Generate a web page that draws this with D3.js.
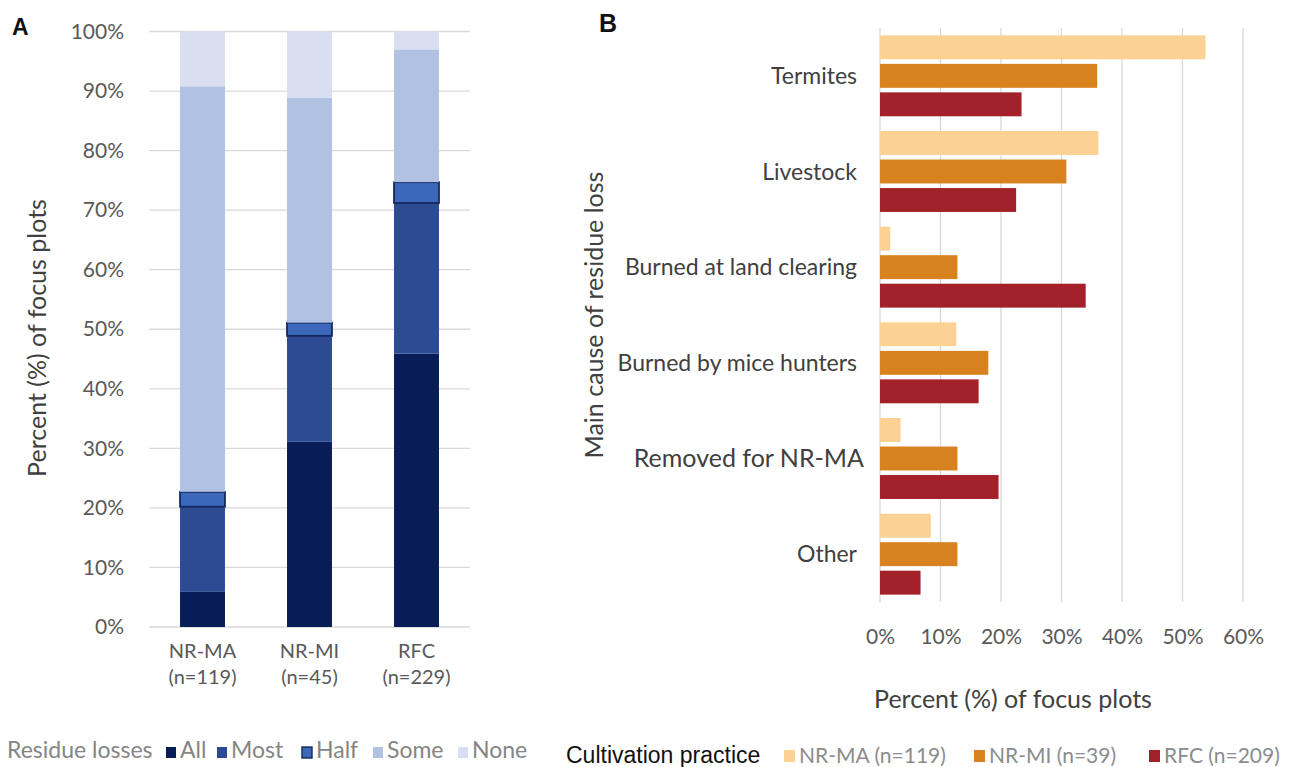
<!DOCTYPE html>
<html><head><meta charset="utf-8">
<script src="https://cdn.jsdelivr.net/npm/d3@7"></script>
<style>
body{margin:0;background:#fff;}
svg{display:block;font-family:Lato, "Open Sans", sans-serif;}
</style></head>
<body>
<svg id="chart" width="1296" height="767"></svg>
<script>
// ---------- Panel A data ----------
const groupsA = ["NR-MA", "NR-MI", "RFC"];
const groupsN = ["(n=119)", "(n=45)", "(n=229)"];
const lossLevels = ["All", "Most", "Half", "Some", "None"];
const lossAll  = [5.9, 31.1, 45.9];
const lossMost = [14.3, 17.8, 25.3];
const lossHalf = [2.5, 2.2, 3.5];
const lossSome = [68.1, 37.8, 22.3];
const lossNone = [9.2, 11.1, 3.0];
const yTicksA = [0, 10, 20, 30, 40, 50, 60, 70, 80, 90, 100];
const lossColors = ["#081d58", "#2c4b92", "#3b68bb", "#b0c1e2", "#d9dff0"];

// ---------- Panel B data ----------
const causes = ["Termites", "Livestock", "Burned at land clearing", "Burned by mice hunters", "Removed for NR-MA", "Other"];
const practices = ["NR-MA (n=119)", "NR-MI (n=39)", "RFC (n=209)"];
const nrmaVals = [53.8, 36.1, 1.7, 12.6, 3.4, 8.4];
const nrmiVals = [35.9, 30.8, 12.8, 17.9, 12.8, 12.8];
const rfcVals  = [23.4, 22.5, 34.0, 16.3, 19.6, 6.7];
const xTicksB = [0, 10, 20, 30, 40, 50, 60];
const practiceColors = ["#fbd194", "#d8821f", "#a3222a"];

const svg = d3.select("#chart");
const grid = "#d9d9d9";
const tickCol = "#595959";
const labCol = "#404040";

// ================= PANEL A =================
const gA = svg.append("g");
const xA = d3.scaleBand().domain(groupsA).range([149, 470]).paddingInner(0.58).paddingOuter(0.29);
const yA = d3.scaleLinear().domain([0, 100]).range([627, 31.5]);

gA.append("g").selectAll("line").data(yTicksA).join("line")
  .attr("x1", 149).attr("x2", 470)
  .attr("y1", d => yA(d)).attr("y2", d => yA(d))
  .attr("stroke", grid).attr("stroke-width", 1.3);

const axA = gA.append("g").attr("transform", "translate(149,0)")
  .call(d3.axisLeft(yA).tickValues(yTicksA).tickSize(0).tickPadding(25).tickFormat(d => d + "%"));
axA.select(".domain").remove();
axA.selectAll("text").attr("font-family", "Lato, sans-serif").attr("font-size", 21).attr("fill", tickCol);

const seriesA = [lossAll, lossMost, lossHalf, lossSome, lossNone];
const rowsA = groupsA.map((g, i) => {
  const r = {group: g};
  lossLevels.forEach((l, j) => r[l] = seriesA[j][i]);
  return r;
});
const stackA = d3.stack().keys(lossLevels)(rowsA);
gA.append("g").selectAll("g").data(stackA).join("g")
  .attr("fill", (d, i) => lossColors[i])
  .selectAll("rect").data(d => d.map(v => Object.assign(v, {key: d.key}))).join("rect")
  .attr("x", d => xA(d.data.group))
  .attr("width", xA.bandwidth())
  .attr("y", d => yA(d[1]))
  .attr("height", d => yA(d[0]) - yA(d[1]))
  .attr("stroke", d => d.key === "Half" ? "#15285e" : "none")
  .attr("stroke-width", d => d.key === "Half" ? 1.8 : 0);

const catA = gA.append("g");
catA.selectAll("text.g").data(groupsA).join("text").attr("class", "g")
  .attr("x", d => xA(d) + xA.bandwidth() / 2).attr("y", 658)
  .attr("text-anchor", "middle").attr("font-size", 20).attr("fill", tickCol).text(d => d);
catA.selectAll("text.n").data(groupsN).join("text").attr("class", "n")
  .attr("x", (d, i) => xA(groupsA[i]) + xA.bandwidth() / 2).attr("y", 684)
  .attr("text-anchor", "middle").attr("font-size", 20).attr("fill", tickCol).text(d => d);

gA.append("text").attr("transform", "translate(46,338) rotate(-90)")
  .attr("text-anchor", "middle").attr("font-size", 25).attr("fill", labCol)
  .text("Percent (%) of focus plots");

svg.append("text").attr("x", 12).attr("y", 35).attr("font-size", 23).attr("font-weight", "bold")
  .attr("font-family", "Liberation Sans, Arial, sans-serif").attr("fill", "#111").text("A");

// legend A
const legA = svg.append("g").attr("font-size", 23).attr("fill", "#858585");
legA.append("text").attr("x", 7).attr("y", 758).text("Residue losses");
const legAx = [166, 217, 302, 373, 458];
lossLevels.forEach((l, i) => {
  legA.append("rect").attr("x", legAx[i]).attr("y", 747).attr("width", 10).attr("height", 11)
    .attr("fill", lossColors[i]).attr("stroke", l === "Half" ? "#15285e" : "none").attr("stroke-width", 1.4);
  legA.append("text").attr("x", legAx[i] + 14).attr("y", 758).text(l);
});

// ================= PANEL B =================
const gB = svg.append("g");
const xB = d3.scaleLinear().domain([0, 60]).range([880, 1243]);
const yB = d3.scaleBand().domain(causes).range([28, 602]).paddingInner(0.154).paddingOuter(0.077);
const yB1 = d3.scaleBand().domain(practices).range([0, yB.bandwidth()]).paddingInner(0.16);

gB.append("g").selectAll("line").data(xTicksB).join("line")
  .attr("x1", d => xB(d)).attr("x2", d => xB(d))
  .attr("y1", 28).attr("y2", 602)
  .attr("stroke", grid).attr("stroke-width", 1.3);

const axB = gB.append("g").attr("transform", "translate(0,602)")
  .call(d3.axisBottom(xB).tickValues(xTicksB).tickSize(0).tickPadding(27).tickFormat(d => d + "%"));
axB.select(".domain").remove();
axB.selectAll("text").attr("font-family", "Lato, sans-serif").attr("font-size", 21).attr("fill", tickCol);

const seriesB = [nrmaVals, nrmiVals, rfcVals];
const rowsB = causes.map((c, i) => ({cause: c, vals: practices.map((p, j) => ({p, v: seriesB[j][i], j}))}));
gB.append("g").selectAll("g").data(rowsB).join("g")
  .attr("transform", d => `translate(0,${yB(d.cause)})`)
  .selectAll("rect").data(d => d.vals).join("rect")
  .attr("x", xB(0)).attr("y", d => yB1(d.p))
  .attr("width", d => xB(d.v) - xB(0)).attr("height", yB1.bandwidth())
  .attr("fill", d => practiceColors[d.j]);

gB.append("g").selectAll("text").data(causes).join("text")
  .attr("x", (d, i) => i === 4 ? 864 : 857)
  .attr("y", d => yB(d) + yB.bandwidth() / 2)
  .attr("dy", "0.35em").attr("text-anchor", "end")
  .attr("font-size", (d, i) => i === 4 ? 25 : 23).attr("fill", labCol).text(d => d);

gB.append("text").attr("transform", "translate(603,315) rotate(-90)")
  .attr("text-anchor", "middle").attr("font-size", 25).attr("fill", labCol)
  .text("Main cause of residue loss");
gB.append("text").attr("x", 1013).attr("y", 708).attr("text-anchor", "middle")
  .attr("font-size", 25).attr("fill", labCol).text("Percent (%) of focus plots");

svg.append("text").attr("x", 599).attr("y", 32).attr("font-size", 25).attr("font-weight", "bold")
  .attr("font-family", "Liberation Sans, Arial, sans-serif").attr("fill", "#111").text("B");

// legend B
const legB = svg.append("g");
legB.append("text").attr("x", 566).attr("y", 763).attr("font-size", 23)
  .attr("font-family", "Liberation Sans, Arial, sans-serif").attr("fill", "#111").text("Cultivation practice");
const legBx = [784, 974, 1149];
practices.forEach((p, i) => {
  legB.append("rect").attr("x", legBx[i]).attr("y", 750).attr("width", 11).attr("height", 12).attr("fill", practiceColors[i]);
  legB.append("text").attr("x", legBx[i] + 15).attr("y", 763).attr("font-size", 21).attr("fill", "#8c8c8c").text(p);
});
</script>
</body></html>
